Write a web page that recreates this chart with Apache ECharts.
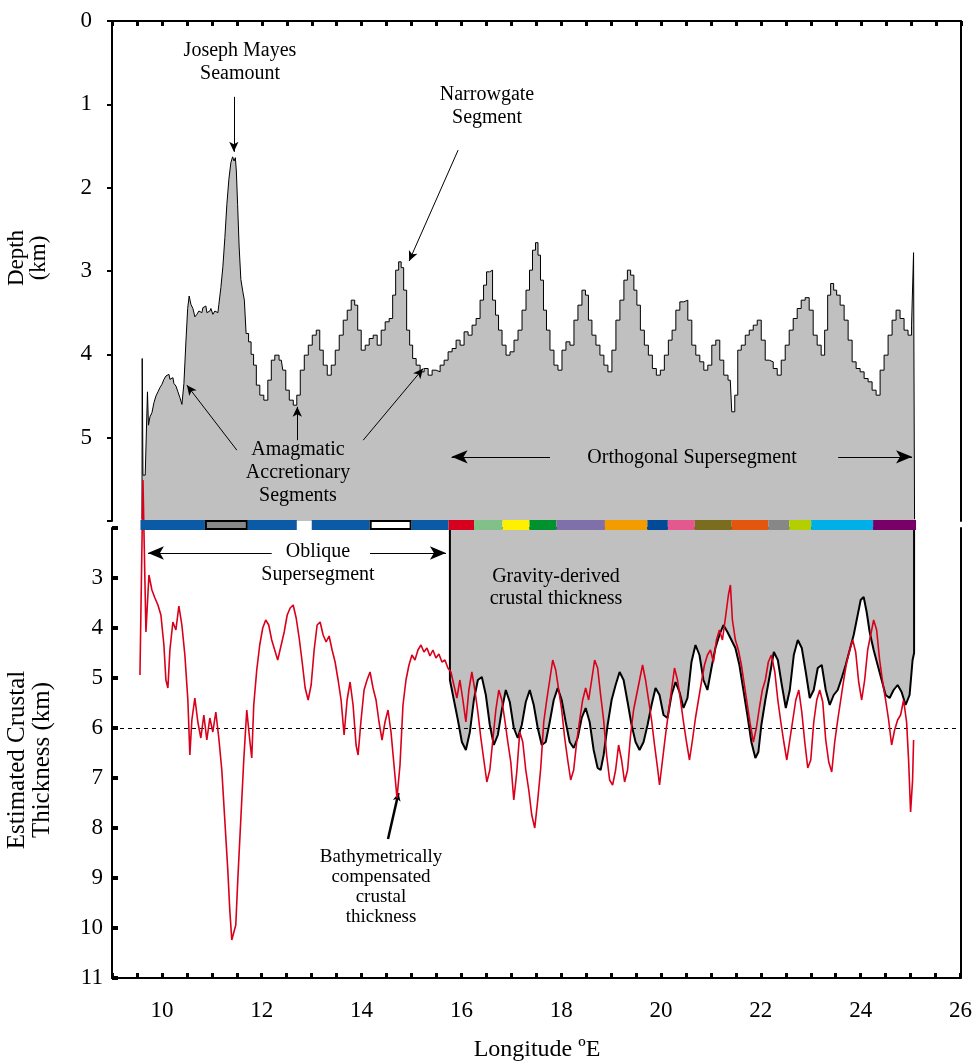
<!DOCTYPE html>
<html>
<head>
<meta charset="utf-8">
<script src="https://cdn.jsdelivr.net/npm/echarts@6.0.0/dist/echarts.min.js"></script>
<style>
html,body{margin:0;padding:0;background:#fff;}
#chart{width:975px;height:1063px;}
</style>
</head>
<body>
<div id="chart"></div>
<script>
// ---------- DATA ----------
// Bathymetric depth profile (longitude °E, depth km)
const depthProfile = [[9.60,5.98],[9.61,4.05],[9.63,5.45],[9.70,5.45],[9.72,4.45],[9.74,4.85],[9.78,4.75],[9.82,4.70],[9.86,4.58],[9.90,4.50],[9.94,4.45],[9.98,4.40],[10.02,4.36],[10.06,4.30],[10.10,4.26],[10.14,4.24],[10.18,4.30],[10.22,4.28],[10.26,4.35],[10.30,4.38],[10.34,4.45],[10.38,4.52],[10.42,4.60],[10.46,4.35],[10.50,3.85],[10.53,3.45],[10.56,3.30],[10.60,3.40],[10.64,3.45],[10.68,3.55],[10.72,3.52],[10.76,3.48],[10.80,3.50],[10.84,3.44],[10.88,3.42],[10.92,3.50],[10.96,3.48],[11.00,3.45],[11.04,3.52],[11.08,3.48],[11.12,3.50],[11.16,3.40],[11.20,3.20],[11.24,2.95],[11.28,2.60],[11.32,2.20],[11.36,1.90],[11.40,1.70],[11.43,1.63],[11.46,1.68],[11.48,1.64],[11.50,1.80],[11.53,2.20],[11.56,2.70],[11.60,3.10],[11.64,3.25],[11.66,3.35],[11.71,3.75],[11.76,3.85],[11.81,4.00],[11.86,4.13],[11.92,4.37],[12.00,4.49],[12.08,4.55],[12.16,4.31],[12.22,4.07],[12.30,4.01],[12.39,4.07],[12.45,4.19],[12.51,4.43],[12.59,4.55],[12.67,4.61],[12.73,4.49],[12.81,4.19],[12.89,4.01],[12.97,3.89],[13.05,3.77],[13.13,3.71],[13.19,3.95],[13.27,4.13],[13.35,4.25],[13.43,4.13],[13.51,3.95],[13.59,3.77],[13.67,3.59],[13.75,3.47],[13.83,3.35],[13.89,3.41],[13.95,3.71],[14.03,3.95],[14.11,3.89],[14.19,3.81],[14.27,3.77],[14.35,3.89],[14.43,3.71],[14.51,3.61],[14.59,3.57],[14.65,3.29],[14.71,2.99],[14.77,2.89],[14.81,2.96],[14.87,3.23],[14.93,3.71],[14.99,3.89],[15.05,4.05],[15.13,4.13],[15.21,4.21],[15.29,4.17],[15.37,4.25],[15.45,4.19],[15.53,4.21],[15.61,4.13],[15.69,4.07],[15.77,3.97],[15.85,3.93],[15.93,3.83],[16.01,3.89],[16.09,3.73],[16.17,3.77],[16.25,3.65],[16.33,3.57],[16.41,3.35],[16.47,3.17],[16.53,3.01],[16.59,2.99],[16.65,3.35],[16.71,3.53],[16.77,3.71],[16.85,3.89],[16.93,4.01],[17.01,3.97],[17.09,3.83],[17.17,3.71],[17.25,3.47],[17.33,3.23],[17.39,2.99],[17.45,2.75],[17.51,2.66],[17.55,2.81],[17.61,3.11],[17.67,3.47],[17.73,3.71],[17.81,3.95],[17.89,4.13],[17.97,4.19],[18.05,3.95],[18.13,3.85],[18.21,3.89],[18.29,3.59],[18.37,3.41],[18.45,3.23],[18.51,3.29],[18.57,3.59],[18.65,3.77],[18.73,3.89],[18.81,4.01],[18.89,4.13],[18.97,4.21],[19.05,3.95],[19.13,3.59],[19.21,3.35],[19.29,3.11],[19.35,2.99],[19.42,3.05],[19.48,3.23],[19.54,3.41],[19.62,3.71],[19.70,3.89],[19.78,4.01],[19.86,4.17],[19.94,4.25],[20.02,4.19],[20.10,4.01],[20.18,3.83],[20.25,3.71],[20.33,3.47],[20.41,3.37],[20.49,3.35],[20.57,3.59],[20.65,3.89],[20.73,4.01],[20.81,4.09],[20.89,4.19],[20.97,4.13],[21.05,3.89],[21.13,3.83],[21.21,4.07],[21.29,4.25],[21.38,4.31],[21.44,4.69],[21.50,4.49],[21.56,3.95],[21.64,3.89],[21.72,3.77],[21.80,3.71],[21.88,3.65],[21.96,3.59],[22.04,3.83],[22.12,4.07],[22.20,4.09],[22.28,4.17],[22.36,4.25],[22.44,4.07],[22.52,3.89],[22.60,3.71],[22.68,3.57],[22.76,3.45],[22.84,3.35],[22.92,3.32],[23.00,3.47],[23.08,3.77],[23.16,3.89],[23.24,4.01],[23.30,3.71],[23.36,3.29],[23.42,3.15],[23.48,3.23],[23.54,3.29],[23.62,3.41],[23.70,3.59],[23.78,3.83],[23.86,4.09],[23.94,4.17],[24.02,4.21],[24.10,4.29],[24.18,4.33],[24.26,4.43],[24.34,4.49],[24.42,4.19],[24.50,4.01],[24.58,3.77],[24.66,3.59],[24.74,3.47],[24.82,3.57],[24.90,3.71],[24.98,3.77],[25.04,3.65],[25.06,2.78],[25.08,5.98]];

// Bathymetrically compensated crustal thickness (longitude, km)
const bathyThickness = [[9.56,4.94],[9.62,1.04],[9.68,4.08],[9.74,2.94],[9.80,3.24],[9.86,3.40],[9.92,3.54],[9.98,3.74],[10.04,4.34],[10.08,5.04],[10.12,5.20],[10.16,4.44],[10.22,3.88],[10.28,4.04],[10.34,3.56],[10.40,3.94],[10.46,4.54],[10.52,5.44],[10.56,6.54],[10.60,5.84],[10.66,5.40],[10.72,5.88],[10.78,6.20],[10.84,5.74],[10.90,6.24],[10.96,5.80],[11.02,6.08],[11.08,5.68],[11.14,6.20],[11.20,6.84],[11.26,7.84],[11.32,8.84],[11.36,9.64],[11.40,10.24],[11.44,10.28],[11.48,9.94],[11.52,9.04],[11.58,7.84],[11.64,6.64],[11.70,5.64],[11.76,6.24],[11.80,6.60],[11.84,5.54],[11.90,4.84],[11.96,4.34],[12.02,4.00],[12.08,3.84],[12.14,3.94],[12.20,4.24],[12.26,4.44],[12.32,4.64],[12.39,4.34],[12.45,4.08],[12.51,3.74],[12.57,3.60],[12.63,3.54],[12.69,3.80],[12.75,4.20],[12.81,4.68],[12.87,5.20],[12.93,5.44],[12.99,5.14],[13.05,4.44],[13.11,3.94],[13.17,3.88],[13.23,4.14],[13.29,4.28],[13.35,4.16],[13.41,4.44],[13.47,4.68],[13.53,5.04],[13.59,5.44],[13.65,6.14],[13.71,5.44],[13.77,5.08],[13.83,5.54],[13.89,6.34],[13.93,6.54],[13.99,5.84],[14.05,5.24],[14.11,5.04],[14.17,4.88],[14.23,5.20],[14.29,5.44],[14.35,5.88],[14.41,6.24],[14.47,5.88],[14.53,5.64],[14.59,6.08],[14.65,6.74],[14.71,7.40],[14.77,6.74],[14.83,5.54],[14.89,5.04],[14.95,4.74],[15.01,4.54],[15.07,4.64],[15.13,4.44],[15.19,4.34],[15.25,4.48],[15.31,4.40],[15.37,4.56],[15.43,4.44],[15.49,4.60],[15.55,4.52],[15.61,4.68],[15.67,4.64],[15.73,4.80],[15.79,4.88],[15.85,5.14],[15.91,5.40],[15.97,5.04],[16.03,5.44],[16.09,5.88],[16.15,5.24],[16.21,4.88],[16.27,5.24],[16.33,5.68],[16.39,6.20],[16.45,6.64],[16.51,7.08],[16.57,6.84],[16.63,6.24],[16.69,5.64],[16.75,5.24],[16.81,5.44],[16.87,5.84],[16.93,6.28],[16.99,6.68],[17.05,7.44],[17.11,6.88],[17.17,6.08],[17.23,6.28],[17.29,6.84],[17.35,7.24],[17.41,7.74],[17.47,8.00],[17.53,7.44],[17.59,6.80],[17.65,5.88],[17.71,5.44],[17.77,5.04],[17.83,4.64],[17.89,4.84],[17.95,5.24],[18.01,5.64],[18.07,6.20],[18.13,6.64],[18.19,7.04],[18.25,6.84],[18.31,6.28],[18.37,5.84],[18.43,5.44],[18.49,5.20],[18.55,5.44],[18.61,5.04],[18.67,4.64],[18.73,4.80],[18.79,5.34],[18.85,5.84],[18.91,6.54],[18.97,7.04],[19.03,7.14],[19.09,6.84],[19.15,6.34],[19.21,6.64],[19.27,7.08],[19.33,6.84],[19.39,6.14],[19.45,5.64],[19.51,5.34],[19.57,5.04],[19.63,4.74],[19.69,5.04],[19.75,5.44],[19.81,5.84],[19.87,6.34],[19.93,6.80],[19.97,7.14],[20.03,6.64],[20.09,6.14],[20.15,5.68],[20.21,5.24],[20.27,4.80],[20.33,5.04],[20.39,5.44],[20.45,5.88],[20.51,6.28],[20.57,6.64],[20.63,6.24],[20.69,5.80],[20.75,5.44],[20.81,5.08],[20.87,4.74],[20.93,4.54],[20.99,4.44],[21.05,4.68],[21.11,4.24],[21.17,4.04],[21.23,4.24],[21.29,3.80],[21.35,3.34],[21.39,3.14],[21.43,3.84],[21.49,4.24],[21.55,4.44],[21.61,4.74],[21.67,5.14],[21.73,5.54],[21.79,5.94],[21.85,6.28],[21.91,6.00],[21.97,5.60],[22.03,5.24],[22.09,5.04],[22.15,4.68],[22.21,4.54],[22.28,4.88],[22.34,5.44],[22.40,5.88],[22.46,6.28],[22.52,6.64],[22.58,6.24],[22.64,5.84],[22.70,5.44],[22.76,5.24],[22.82,5.68],[22.88,6.28],[22.94,6.80],[23.00,6.64],[23.06,5.88],[23.12,5.44],[23.18,5.24],[23.24,5.48],[23.30,6.24],[23.36,6.68],[23.42,6.88],[23.48,6.28],[23.54,5.84],[23.60,5.44],[23.66,5.04],[23.72,4.68],[23.78,4.44],[23.84,4.24],[23.90,4.48],[23.96,5.08],[24.02,5.44],[24.08,5.04],[24.14,4.44],[24.20,4.14],[24.26,3.84],[24.32,4.04],[24.38,4.64],[24.44,5.08],[24.50,5.44],[24.56,5.84],[24.62,6.34],[24.68,6.04],[24.74,5.84],[24.80,5.74],[24.86,5.44],[24.92,5.88],[24.96,6.64],[25.00,7.68],[25.04,7.04],[25.06,6.24]];

// Gravity-derived crustal thickness (longitude, km)
const gravityThickness = [[15.77,2.0],[15.77,5.04],[15.85,5.44],[15.93,5.84],[16.01,6.28],[16.09,6.44],[16.17,6.08],[16.25,5.44],[16.33,5.04],[16.41,4.98],[16.49,5.34],[16.57,5.94],[16.65,6.34],[16.73,6.14],[16.81,5.64],[16.89,5.24],[16.97,5.48],[17.05,6.00],[17.13,6.20],[17.21,5.94],[17.29,5.48],[17.37,5.24],[17.45,5.54],[17.53,6.00],[17.61,6.34],[17.69,6.28],[17.77,5.88],[17.85,5.44],[17.93,5.20],[18.01,5.44],[18.09,5.88],[18.17,6.28],[18.25,6.40],[18.33,6.20],[18.41,5.80],[18.49,5.60],[18.57,5.88],[18.65,6.44],[18.73,6.80],[18.79,6.84],[18.85,6.54],[18.93,5.94],[19.01,5.44],[19.09,5.14],[19.17,4.88],[19.25,5.04],[19.33,5.48],[19.41,5.94],[19.49,6.28],[19.57,6.44],[19.65,6.28],[19.73,5.94],[19.81,5.54],[19.89,5.20],[19.97,5.34],[20.05,5.74],[20.13,5.80],[20.21,5.34],[20.29,5.08],[20.37,5.28],[20.45,5.60],[20.53,5.40],[20.61,4.68],[20.69,4.34],[20.77,4.54],[20.85,5.04],[20.93,5.24],[21.01,4.80],[21.09,4.40],[21.17,4.14],[21.25,3.94],[21.33,4.08],[21.41,4.24],[21.49,4.40],[21.57,4.74],[21.65,5.24],[21.73,5.74],[21.81,6.28],[21.89,6.60],[21.95,6.48],[22.01,5.94],[22.09,5.44],[22.18,4.94],[22.26,4.48],[22.34,4.64],[22.42,5.14],[22.50,5.60],[22.58,5.24],[22.66,4.54],[22.74,4.24],[22.82,4.40],[22.90,4.88],[22.98,5.40],[23.06,5.24],[23.14,4.80],[23.22,4.74],[23.30,5.24],[23.38,5.54],[23.46,5.34],[23.54,5.24],[23.62,5.00],[23.70,4.74],[23.78,4.44],[23.86,4.14],[23.94,3.74],[24.00,3.44],[24.06,3.38],[24.12,3.68],[24.18,4.08],[24.26,4.44],[24.34,4.74],[24.42,5.04],[24.50,5.34],[24.58,5.40],[24.66,5.24],[24.74,5.14],[24.82,5.28],[24.90,5.54],[24.98,5.34],[25.04,4.64],[25.07,4.5],[25.07,2.0]];

// Segment colour bar along the ridge (start lon, end lon, colour, outlined)
const segStart = [9.57, 10.86, 11.72, 13.00, 14.16, 15.00, 15.74, 16.25, 16.82, 17.36, 17.90, 18.87, 19.72, 20.13, 20.67, 21.41, 22.14, 22.56, 23.00, 24.24];
const segEnd   = [10.86, 11.72, 12.70, 14.16, 15.00, 15.74, 16.25, 16.82, 17.36, 17.90, 18.87, 19.72, 20.13, 20.67, 21.41, 22.14, 22.56, 23.00, 24.24, 25.10];
const segColor = ['#0a5aa5','#878787','#0a5aa5','#0a5aa5','#ffffff','#0a5aa5','#d7001e','#82c08a','#fff000','#00922f','#7f70aa','#f39c00','#004a98','#e2588f','#7b6d1f','#e3560e','#878787','#b4cf00','#00aee8','#780066'];
const segBoxed = [0,1,0,0,1,0,0,0,0,0,0,0,0,0,0,0,0,0,0,0];

const xTicks = [10, 12, 14, 16, 18, 20, 22, 24, 26];

// ---------- CHART ----------
const FONT = '"Liberation Serif", "DejaVu Serif", serif';
const chart = echarts.init(document.getElementById('chart'), null, {renderer: 'canvas'});

const segData = segStart.map((s, i) => [s, segEnd[i], i]);

function arrow(a, b, size) {
  return [{coord: a, symbol: 'none'}, {coord: b, symbol: 'arrow', symbolSize: size}];
}

const axisLineStyle = {color: '#000', width: 2};

const option = {
  animation: false,
  backgroundColor: '#fff',
  grid: [
    {left: 112, top: 21, width: 849, height: 500},
    {left: 112, top: 528, width: 849, height: 450},
    {left: 112, top: 520, width: 849, height: 10}
  ],
  xAxis: [
    {gridIndex: 0, type: 'value', position: 'top', min: 9, max: 26, interval: 0.5,
     axisLine: {show: true, lineStyle: axisLineStyle},
     axisTick: {show: true, inside: true, length: 5, lineStyle: {color: '#000', width: 3}},
     axisLabel: {show: false}, splitLine: {show: false}},
    {gridIndex: 1, type: 'value', position: 'bottom', min: 9, max: 26, interval: 0.5,
     axisLine: {show: true, lineStyle: axisLineStyle},
     axisTick: {show: true, inside: true, length: 5, lineStyle: {color: '#000', width: 3}},
     axisLabel: {show: true, margin: 21, fontFamily: FONT, fontSize: 23, color: '#000',
       showMinLabel: true, showMaxLabel: true,
       formatter: v => (xTicks.indexOf(v) >= 0 ? String(v) : '')},
     splitLine: {show: false}},
    {gridIndex: 2, type: 'value', min: 9, max: 26, show: false}
  ],
  yAxis: [
    {gridIndex: 0, type: 'value', inverse: true, min: 0, max: 6, interval: 1, position: 'left',
     axisLine: {show: true, lineStyle: axisLineStyle},
     axisTick: {show: true, inside: false, length: 5, lineStyle: {color: '#000', width: 2}},
     axisLabel: {margin: 20, fontFamily: FONT, fontSize: 23, color: '#000',
       formatter: v => (v <= 5 ? String(v) : '')},
     splitLine: {show: false}},
    {gridIndex: 0, type: 'value', inverse: true, min: 0, max: 6, position: 'right',
     axisLine: {show: true, lineStyle: axisLineStyle}, axisTick: {show: false},
     axisLabel: {show: false}, splitLine: {show: false}},
    {gridIndex: 1, type: 'value', inverse: true, min: 2, max: 11, interval: 1, position: 'left',
     axisLine: {show: true, lineStyle: axisLineStyle},
     axisTick: {show: true, inside: true, length: 6, lineStyle: {color: '#000', width: 4}},
     axisLabel: {margin: 9, fontFamily: FONT, fontSize: 23, color: '#000',
       formatter: v => (v >= 3 ? String(v) : '')},
     splitLine: {show: false}},
    {gridIndex: 1, type: 'value', inverse: true, min: 2, max: 11, position: 'right',
     axisLine: {show: true, lineStyle: axisLineStyle}, axisTick: {show: false},
     axisLabel: {show: false}, splitLine: {show: false}},
    {gridIndex: 2, type: 'value', min: 0, max: 1, show: false}
  ],
  series: [
    {
      name: 'depth', type: 'line', xAxisIndex: 0, yAxisIndex: 0,
      data: depthProfile, step: 'middle', symbol: 'none', z: 2,
      lineStyle: {color: '#000', width: 1},
      areaStyle: {color: '#c0c0c0', opacity: 1, origin: 'end'},
      markLine: {
        silent: true, animation: false, label: {show: false},
        lineStyle: {color: '#000', width: 1, type: 'solid'},
        data: [
          arrow([11.44, 0.91], [11.44, 1.57], [7, 10]),
          arrow([15.93, 1.55], [14.95, 2.88], [7, 10]),
          arrow([11.50, 5.15], [10.50, 4.37], [7, 10]),
          arrow([12.71, 5.03], [12.71, 4.63], [7, 10]),
          arrow([14.03, 5.03], [15.23, 4.17], [7, 10]),
          arrow([17.77, 5.23], [15.80, 5.23], [10, 16]),
          arrow([23.54, 5.23], [25.02, 5.23], [10, 16])
        ]
      }
    },
    {
      name: 'gravity', type: 'line', xAxisIndex: 1, yAxisIndex: 2,
      data: gravityThickness, symbol: 'none', z: 3,
      lineStyle: {color: '#000', width: 2},
      areaStyle: {color: '#c0c0c0', opacity: 1, origin: 'start'},
      markLine: {
        silent: true, animation: false, label: {show: false},
        lineStyle: {color: '#000', width: 1.2, type: 'solid'},
        data: [
          arrow([12.20, 2.5], [9.72, 2.5], [10, 16]),
          arrow([14.17, 2.5], [15.69, 2.5], [10, 16])
        ]
      }
    },
    {
      name: 'gravityTop', type: 'line', xAxisIndex: 1, yAxisIndex: 2,
      data: [[gravityThickness[0][0], 2.0], [gravityThickness[gravityThickness.length - 1][0], 2.0]],
      symbol: 'none', z: 3, lineStyle: {color: '#000', width: 2}
    },
    {
      name: 'bathy', type: 'line', xAxisIndex: 1, yAxisIndex: 2,
      data: bathyThickness, symbol: 'none', clip: false, z: 5,
      lineStyle: {color: '#d9001b', width: 1.6},
      markLine: {
        silent: true, animation: false, symbol: 'none', label: {show: false},
        lineStyle: {color: '#000', width: 1, type: [4, 4]},
        data: [{yAxis: 6}]
      }
    },
    {
      name: 'bathyArrow', type: 'line', xAxisIndex: 1, yAxisIndex: 2,
      data: [], symbol: 'none', z: 6,
      markLine: {
        silent: true, animation: false, label: {show: false},
        lineStyle: {color: '#000', width: 2.5, type: 'solid'},
        data: [arrow([14.53, 8.22], [14.74, 7.30], [6, 8])]
      }
    },
    {
      name: 'segments', type: 'custom', xAxisIndex: 2, yAxisIndex: 4, z: 10,
      data: segData,
      renderItem: function (params, api) {
        const p0 = api.coord([api.value(0), 0]);
        const p1 = api.coord([api.value(1), 1]);
        const i = api.value(2);
        const boxed = segBoxed[i] === 1;
        const x = p0[0], y = p1[1], w = p1[0] - p0[0], h = p0[1] - p1[1];
        if (boxed) {
          return {type: 'rect',
            shape: {x: x + 1, y: y + 1, width: w - 2, height: h - 2},
            style: {fill: segColor[i], stroke: '#000', lineWidth: 2}};
        }
        return {type: 'rect', shape: {x: x, y: y, width: w, height: h},
          style: {fill: segColor[i]}};
      }
    }
  ],
  graphic: [
    {type: 'text', x: 240, y: 62, z: 20, style: {text: 'Joseph Mayes\nSeamount', font: '20px ' + FONT, fill: '#000', align: 'center', verticalAlign: 'middle', lineHeight: 23}},
    {type: 'text', x: 487, y: 106, z: 20, style: {text: 'Narrowgate\nSegment', font: '20px ' + FONT, fill: '#000', align: 'center', verticalAlign: 'middle', lineHeight: 23}},
    {type: 'text', x: 298, y: 473, z: 20, style: {text: 'Amagmatic\nAccretionary\nSegments', font: '20px ' + FONT, fill: '#000', align: 'center', verticalAlign: 'middle', lineHeight: 23}},
    {type: 'text', x: 692, y: 458, z: 20, style: {text: 'Orthogonal Supersegment', font: '20px ' + FONT, fill: '#000', align: 'center', verticalAlign: 'middle'}},
    {type: 'text', x: 318, y: 563, z: 20, style: {text: 'Oblique\nSupersegment', font: '20px ' + FONT, fill: '#000', align: 'center', verticalAlign: 'middle', lineHeight: 23}},
    {type: 'text', x: 556, y: 588, z: 20, style: {text: 'Gravity-derived\ncrustal thickness', font: '20px ' + FONT, fill: '#000', align: 'center', verticalAlign: 'middle', lineHeight: 22}},
    {type: 'text', x: 381, y: 887, z: 20, style: {text: 'Bathymetrically\ncompensated\ncrustal\nthickness', font: '19px ' + FONT, fill: '#000', align: 'center', verticalAlign: 'middle', lineHeight: 20}},
    {type: 'text', x: 537, y: 1050, z: 20, style: {text: 'Longitude ºE', font: '24px ' + FONT, fill: '#000', align: 'center', verticalAlign: 'middle'}},
    {type: 'text', x: 28, y: 258, rotation: Math.PI / 2, z: 20, style: {text: 'Depth\n(km)', font: '23px ' + FONT, fill: '#000', align: 'center', verticalAlign: 'middle', lineHeight: 22}},
    {type: 'text', x: 30, y: 760, rotation: Math.PI / 2, z: 20, style: {text: 'Estimated Crustal\nThickness (km)', font: '25px ' + FONT, fill: '#000', align: 'center', verticalAlign: 'middle', lineHeight: 25}}
  ]
};

chart.setOption(option);
</script>
</body>
</html>
